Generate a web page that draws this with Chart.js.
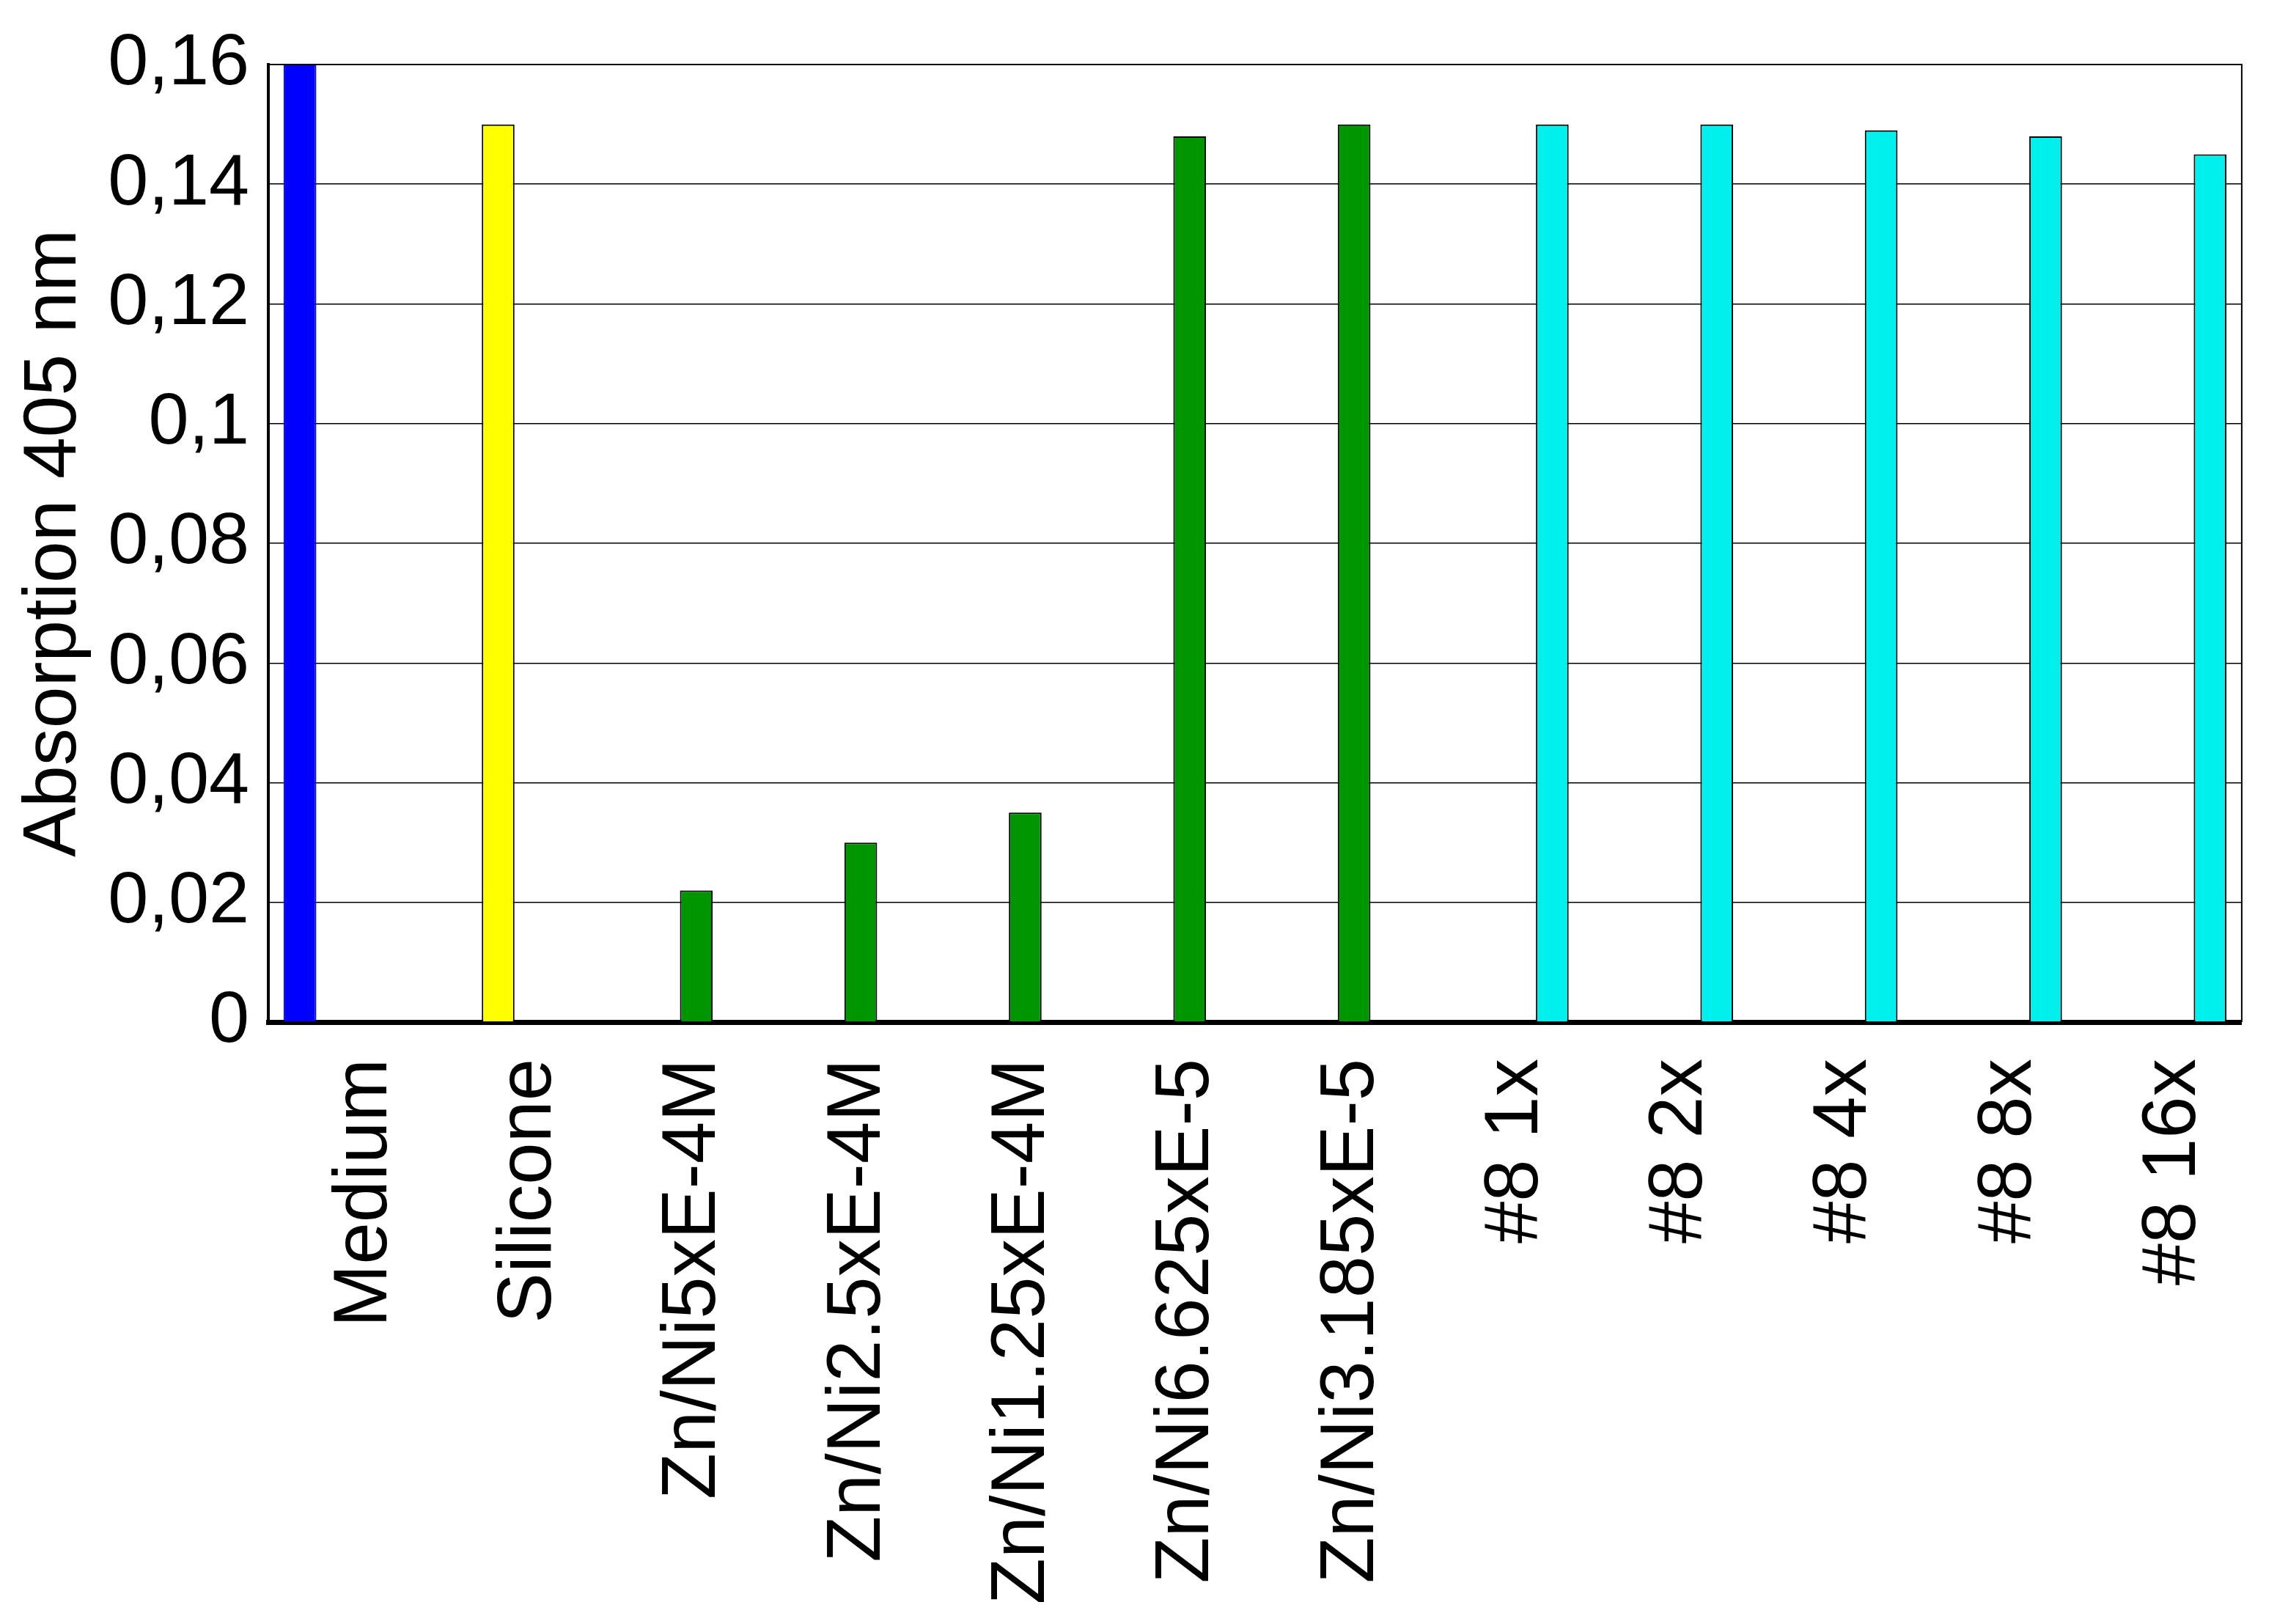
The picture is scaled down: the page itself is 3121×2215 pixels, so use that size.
<!DOCTYPE html>
<html>
<head>
<meta charset="utf-8">
<script src="https://cdn.jsdelivr.net/npm/chart.js@4"></script>
<style>
  html, body { margin: 0; padding: 0; background: #fff; }
  #wrap { width: 3121px; height: 2215px; position: relative; }
</style>
</head>
<body>
<div id="wrap"><canvas id="myChart"></canvas></div>
<script>
const ctx = document.getElementById("myChart");

const categories = ["Medium", "Silicone", "Zn/Ni5xE-4M", "Zn/Ni2.5xE-4M", "Zn/Ni1.25xE-4M",
  "Zn/Ni6.625xE-5", "Zn/Ni3.185xE-5", "#8 1x", "#8 2x", "#8 4x", "#8 8x", "#8 16x"];
const medium   = [0.160, null, null, null, null, null, null, null, null, null, null, null];
const silicone = [null, 0.150, null, null, null, null, null, null, null, null, null, null];
const znNi     = [null, null, 0.022, 0.030, 0.035, 0.148, 0.150, null, null, null, null, null];
const sample8  = [null, null, null, null, null, null, null, 0.150, 0.150, 0.149, 0.148, 0.145];
const yTickLabels = ["0", "0,02", "0,04", "0,06", "0,08", "0,1", "0,12", "0,14", "0,16"];

const font = "'Liberation Sans', Arial, sans-serif";

//. Top and right frame lines of the plot area
const frame = {
  id: "frame",
  afterDraw(chart) {
    const a = chart.chartArea, c = chart.ctx;
    c.save();
    c.strokeStyle = "#000";
    c.lineWidth = 2;
    c.beginPath();
    c.moveTo(a.left, a.top);
    c.lineTo(a.right, a.top);
    c.lineTo(a.right, a.bottom);
    c.stroke();
    c.restore();
  },
};

let myChart = new Chart(ctx, {
  type: "bar",
  data: {
    labels: categories,
    datasets: [
      { label: "Medium", data: medium, backgroundColor: "#0000ff", borderColor: "#0000ff", borderWidth: 2 },
      { label: "Silicone", data: silicone, backgroundColor: "#ffff00", borderColor: "#000", borderWidth: 2 },
      { label: "Zn/Ni", data: znNi, backgroundColor: "#009600", borderColor: "#000", borderWidth: 2 },
      { label: "#8", data: sample8, backgroundColor: "#00f0ee", borderColor: "#000", borderWidth: 2 },
    ],
  },
  options: {
    responsive: true,
    maintainAspectRatio: false,
    animation: false,
    devicePixelRatio: 1,
    categoryPercentage: 0.82,
    barPercentage: 0.97,
    layout: { padding: { left: 0, top: 88, right: 40, bottom: 0 } },
    plugins: { legend: { display: false }, tooltip: { enabled: false } },
    scales: {
      x: {
        grid: { display: false, drawTicks: false },
        border: { display: true, color: "#000", width: 7 },
        ticks: {
          autoSkip: false, minRotation: 90, maxRotation: 90, padding: 50, labelOffset: 20,
          color: "#000", font: { family: font, size: 103 },
        },
        afterFit: (s) => { s.height = 821; },
      },
      y: {
        min: 0,
        max: 0.16,
        grid: { color: "#000", lineWidth: 1.5, drawTicks: false },
        border: { display: true, color: "#000", width: 4 },
        ticks: {
          stepSize: 0.02, padding: 26, color: "#000",
          font: { family: font, size: 99 },
          callback: (v, i) => yTickLabels[i],
        },
        title: {
          display: true, text: "Absorption 405 nm", color: "#000",
          font: { family: font, size: 102 }, padding: { top: 14, bottom: 0 },
        },
        afterFit: (s) => { s.width = 366; },
      },
    },
  },
  plugins: [frame],
});
</script>
</body>
</html>
